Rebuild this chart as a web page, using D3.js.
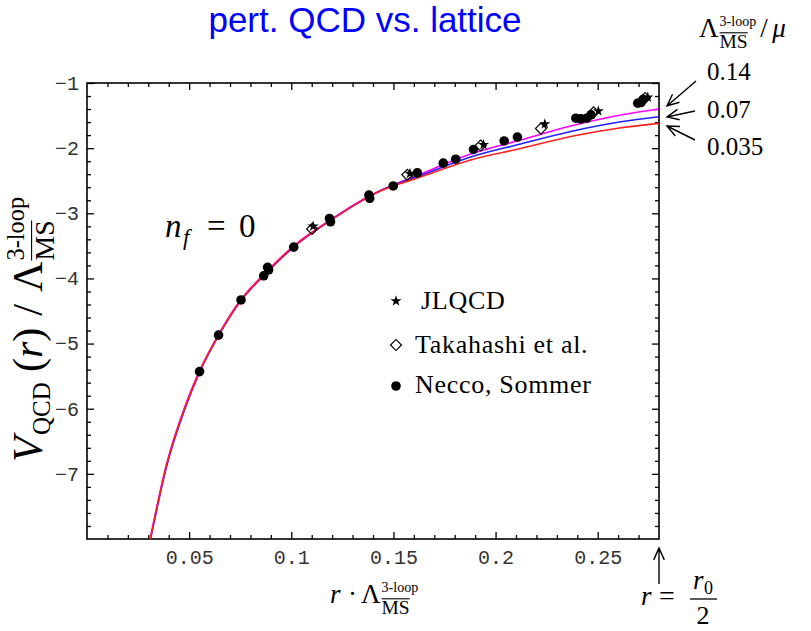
<!DOCTYPE html>
<html>
<head>
<meta charset="utf-8">
<script src="https://cdn.jsdelivr.net/npm/d3@7"></script>
<style>
  body { margin: 0; background: #fff; }
  text { font-family: "Liberation Serif", serif; fill: #000; }
  .tick text { font-family: "Liberation Mono", monospace; fill: #333; }
</style>
</head>
<body>
<div id="chart"></div>
<script>
// perturbative curves, r * Lambda vs V / Lambda (three values of Lambda/mu)
var curveR    = [0.0310, 0.0391, 0.0481, 0.0551, 0.0644, 0.0754, 0.0865, 0.1012, 0.1192, 0.1384, 0.1437, 0.1633, 0.1878, 0.2123, 0.2368, 0.2614, 0.2800];
var curve014  = [-7.98, -6.83, -5.95, -5.42, -4.86, -4.32, -3.94, -3.50, -3.10, -2.73, -2.650, -2.397, -2.090, -1.875, -1.660, -1.491, -1.399];
var curve007  = [-8.02, -6.87, -5.99, -5.44, -4.88, -4.34, -3.96, -3.52, -3.11, -2.74, -2.652, -2.420, -2.136, -1.936, -1.745, -1.596, -1.517];
var curve0035 = [-8.00, -6.85, -5.97, -5.43, -4.87, -4.33, -3.95, -3.51, -3.11, -2.74, -2.658, -2.443, -2.182, -2.006, -1.821, -1.686, -1.619];
var curveLabels = ["0.14", "0.07", "0.035"];
var curveColors = ["#ff00ff", "#2020ff", "#ff2020"];

// lattice data
var nsR = [0.0551, 0.0644, 0.0754, 0.0865, 0.0884, 0.0889, 0.1012, 0.1187, 0.1192, 0.1380, 0.1384, 0.1499, 0.1617, 0.1744, 0.1805, 0.1892, 0.2042, 0.2107, 0.2393, 0.2418, 0.2447, 0.2467, 0.2696, 0.2712, 0.2722];
var nsV = [-5.43, -4.87, -4.33, -3.96, -3.83, -3.87, -3.52, -3.08, -3.13, -2.72, -2.77, -2.58, -2.38, -2.23, -2.17, -2.02, -1.89, -1.83, -1.54, -1.55, -1.54, -1.49, -1.31, -1.30, -1.25];
var tkR = [0.1102, 0.1568, 0.1927, 0.2222, 0.2480, 0.2732];
var tkV = [-3.24, -2.41, -1.96, -1.70, -1.45, -1.23];
var jlR = [0.1107, 0.1581, 0.1941, 0.2241, 0.2503, 0.2745];
var jlV = [-3.20, -2.39, -1.95, -1.63, -1.43, -1.22];

var legendNames = ["JLQCD", "Takahashi et al.", "Necco, Sommer"];

// ticks
var xMajor = [0.05, 0.1, 0.15, 0.2, 0.25];
var xMinor = d3.range(1, 28).map(function(i) { return i / 100; }).filter(function(d) { return Math.round(d * 100) % 5 != 0; });
var yMajor = [-7, -6, -5, -4, -3, -2, -1];
var yMinor = d3.range(-39, -5).map(function(i) { return i / 5; }).filter(function(d) { return Math.round(d * 5) % 5 != 0; });

var W = 811, H = 631;
var x = d3.scaleLinear().domain([0, 0.28]).range([87, 659]);
var y = d3.scaleLinear().domain([-8, -1]).range([539, 83]);

var svg = d3.select("#chart").append("svg")
    .attr("width", W)
    .attr("height", H);

svg.append("defs").append("clipPath").attr("id", "plotclip")
  .append("rect")
    .attr("x", x(0)).attr("y", y(-1))
    .attr("width", x(0.28) - x(0)).attr("height", y(-8) - y(-1));

// axes (ticks pointing inward)
function styleAxis(g) {
  g.select(".domain").remove();
  g.selectAll(".tick line").attr("stroke", "#000").attr("stroke-width", 1.3);
}
var fmtX = function(d) { return String(d); };

svg.append("g").attr("transform", "translate(0," + y(-8) + ")")
  .call(d3.axisBottom(x).tickValues(xMajor).tickSize(-7).tickPadding(11).tickFormat(fmtX))
  .call(styleAxis)
  .selectAll("text").style("font-size", "20px");
svg.append("g").attr("transform", "translate(0," + y(-8) + ")")
  .call(d3.axisBottom(x).tickValues(xMinor).tickSize(-4).tickFormat(""))
  .call(styleAxis);
svg.append("g").attr("transform", "translate(0," + y(-1) + ")")
  .call(d3.axisTop(x).tickValues(xMajor).tickSize(-7).tickFormat(""))
  .call(styleAxis);
svg.append("g").attr("transform", "translate(0," + y(-1) + ")")
  .call(d3.axisTop(x).tickValues(xMinor).tickSize(-4).tickFormat(""))
  .call(styleAxis);

svg.append("g").attr("transform", "translate(" + x(0) + ",0)")
  .call(d3.axisLeft(y).tickValues(yMajor).tickSize(-7).tickPadding(8).tickFormat(d3.format("d")))
  .call(styleAxis)
  .selectAll("text").style("font-size", "20px");
svg.append("g").attr("transform", "translate(" + x(0) + ",0)")
  .call(d3.axisLeft(y).tickValues(yMinor).tickSize(-4).tickFormat(""))
  .call(styleAxis);
svg.append("g").attr("transform", "translate(" + x(0.28) + ",0)")
  .call(d3.axisRight(y).tickValues(yMajor).tickSize(-7).tickFormat(""))
  .call(styleAxis);
svg.append("g").attr("transform", "translate(" + x(0.28) + ",0)")
  .call(d3.axisRight(y).tickValues(yMinor).tickSize(-4).tickFormat(""))
  .call(styleAxis);

// frame
svg.append("rect")
  .attr("x", x(0)).attr("y", y(-1))
  .attr("width", x(0.28) - x(0)).attr("height", y(-8) - y(-1))
  .attr("fill", "none").attr("stroke", "#000").attr("stroke-width", 1.6);

// curves
var line = d3.line()
  .x(function(d) { return x(d[0]); })
  .y(function(d) { return y(d[1]); })
  .curve(d3.curveMonotoneX);
[curve014, curve007, curve0035].forEach(function(vals, i) {
  svg.append("path")
    .datum(curveR.map(function(r, k) { return [r, vals[k]]; }))
    .attr("clip-path", "url(#plotclip)")
    .attr("fill", "none")
    .attr("stroke", curveColors[i])
    .attr("stroke-width", 1.6)
    .attr("d", line);
});

// markers
var star = d3.symbol().type(d3.symbolStar).size(38);
var diamond = d3.symbol().type(d3.symbolSquare).size(60);

svg.append("g").selectAll("path")
  .data(tkR.map(function(r, k) { return [r, tkV[k]]; }))
  .enter().append("path")
    .attr("d", diamond)
    .attr("transform", function(d) { return "translate(" + x(d[0]) + "," + y(d[1]) + ") rotate(45)"; })
    .attr("fill", "none").attr("stroke", "#000").attr("stroke-width", 1.2);

svg.append("g").selectAll("path")
  .data(jlR.map(function(r, k) { return [r, jlV[k]]; }))
  .enter().append("path")
    .attr("d", star)
    .attr("transform", function(d) { return "translate(" + x(d[0]) + "," + y(d[1]) + ")"; })
    .attr("fill", "#000");

svg.append("g").selectAll("circle")
  .data(nsR.map(function(r, k) { return [r, nsV[k]]; }))
  .enter().append("circle")
    .attr("cx", function(d) { return x(d[0]); })
    .attr("cy", function(d) { return y(d[1]); })
    .attr("r", 4.8)
    .attr("fill", "#000");

// legend
var leg = svg.append("g");
var legY = [309, 353, 393];
leg.append("path").attr("d", star).attr("transform", "translate(396," + (legY[0] - 8) + ")");
leg.append("path").attr("d", diamond).attr("transform", "translate(396," + (legY[1] - 8) + ") rotate(45)")
  .attr("fill", "none").attr("stroke", "#000").attr("stroke-width", 1.2);
leg.append("circle").attr("cx", 396).attr("cy", legY[2] - 7).attr("r", 4.8);
legendNames.forEach(function(n, i) {
  leg.append("text").attr("x", i == 0 ? 421 : 415).attr("y", legY[i])
    .style("font-size", "26px").style("letter-spacing", "0.7px").text(n);
});

// Lambda^{3-loop}_{MS-bar}
function lambdaMS(g, x0, y0, size, subDrop, subScale, supScale) {
  subDrop = subDrop || 0.42;
  subScale = subScale || 0.72;
  supScale = supScale || 0.52;
  var t = g.append("text").attr("x", x0).attr("y", y0).style("font-size", size + "px").text("\u039B");
  var xs = x0 + t.node().getComputedTextLength() + 1;
  var sup = g.append("text").attr("x", xs).attr("y", y0 - size * 0.42)
    .style("font-size", (size * supScale) + "px").text("3-loop");
  var sub = g.append("text").attr("x", xs).attr("y", y0 + size * subDrop)
    .style("font-size", (size * subScale) + "px").text("MS");
  var mw = sub.node().getComputedTextLength();
  var oy = y0 + size * subDrop - size * subScale * 0.8;
  g.append("line")
    .attr("x1", xs).attr("x2", xs + mw)
    .attr("y1", oy).attr("y2", oy)
    .attr("stroke", "#000").attr("stroke-width", 1.1);
  return xs + Math.max(mw, sup.node().getComputedTextLength());
}

// title
svg.append("text")
  .attr("x", 365).attr("y", 32)
  .attr("text-anchor", "middle")
  .style("font-family", "'Liberation Sans', Arial, sans-serif")
  .style("font-size", "35px")
  .style("fill", "#0000ff")
  .text("pert. QCD vs. lattice");

// top right label
var tr = svg.append("g");
var xe = lambdaMS(tr, 699, 37, 27);
tr.append("text").attr("x", xe + 4).attr("y", 37).style("font-size", "27px").text("/");
tr.append("text").attr("x", xe + 16).attr("y", 37).style("font-size", "27px").style("font-style", "italic").text("\u03BC");

// curve labels and arrows
var labY = [80, 118, 155];
curveLabels.forEach(function(l, i) {
  svg.append("text").attr("x", 707).attr("y", labY[i]).style("font-size", "25px").text(l);
});
function arrow(x1, y1, x2, y2) {
  var a = Math.atan2(y2 - y1, x2 - x1), L = 13, s = 0.42;
  var p = d3.path();
  p.moveTo(x1, y1); p.lineTo(x2, y2);
  p.moveTo(x2 - L * Math.cos(a - s), y2 - L * Math.sin(a - s)); p.lineTo(x2, y2);
  p.lineTo(x2 - L * Math.cos(a + s), y2 - L * Math.sin(a + s));
  svg.append("path").attr("d", p.toString()).attr("fill", "none").attr("stroke", "#000").attr("stroke-width", 1.4);
}
arrow(696, 81, 667, 106);
arrow(695, 111, 667, 117);
arrow(695, 140, 667, 126);
arrow(659, 584, 659, 548);

// n_f = 0
var nf = svg.append("g");
nf.append("text").attr("x", 165).attr("y", 237).style("font-size", "33px").style("font-style", "italic").text("n");
nf.append("text").attr("x", 183).attr("y", 245).style("font-size", "23px").style("font-style", "italic").text("f");
nf.append("text").attr("x", 207).attr("y", 237).style("font-size", "33px").text("=");
nf.append("text").attr("x", 239).attr("y", 237).style("font-size", "33px").text("0");

// x axis label
var xl = svg.append("g");
xl.append("text").attr("x", 330).attr("y", 603).style("font-size", "27px").style("font-style", "italic").text("r");
xl.append("text").attr("x", 348).attr("y", 603).style("font-size", "27px").text("\u00B7");
lambdaMS(xl, 361, 603, 27);

// r = r0/2
var rr = svg.append("g");
rr.append("text").attr("x", 641).attr("y", 605).style("font-size", "27px").style("font-style", "italic").text("r");
rr.append("text").attr("x", 659).attr("y", 605).style("font-size", "28px").text("=");
rr.append("text").attr("x", 693).attr("y", 589).style("font-size", "27px").style("font-style", "italic").text("r");
rr.append("text").attr("x", 704).attr("y", 594).style("font-size", "18px").text("0");
rr.append("line").attr("x1", 690).attr("x2", 717).attr("y1", 599).attr("y2", 599).attr("stroke", "#000").attr("stroke-width", 1.3);
rr.append("text").attr("x", 703).attr("y", 624).attr("text-anchor", "middle").style("font-size", "26px").text("2");

// y axis label (rotated)
var yl = svg.append("g");
var yt = yl.append("g");
var ys = 42;
yt.append("text").attr("x", 0).attr("y", 0).style("font-size", ys + "px").style("font-style", "italic").text("V");
yt.append("text").attr("x", 27).attr("y", 8).style("font-size", "25px").text("QCD");
var tx = yt.append("text").attr("x", 90).attr("y", 0).style("font-size", ys + "px");
tx.append("tspan").text("(");
tx.append("tspan").style("font-style", "italic").text("r");
tx.append("tspan").text(")");
var sx = 90 + tx.node().getComputedTextLength() + 12;
var sl = yt.append("text").attr("x", sx).attr("y", 0).style("font-size", ys + "px").text("/");
var lx = sx + sl.node().getComputedTextLength() + 12;
var endX = lambdaMS(yt, lx, 0, ys, 0.28, 0.66, 0.58);
yl.attr("transform", "translate(42,462) rotate(-90)");
</script>
</body>
</html>
